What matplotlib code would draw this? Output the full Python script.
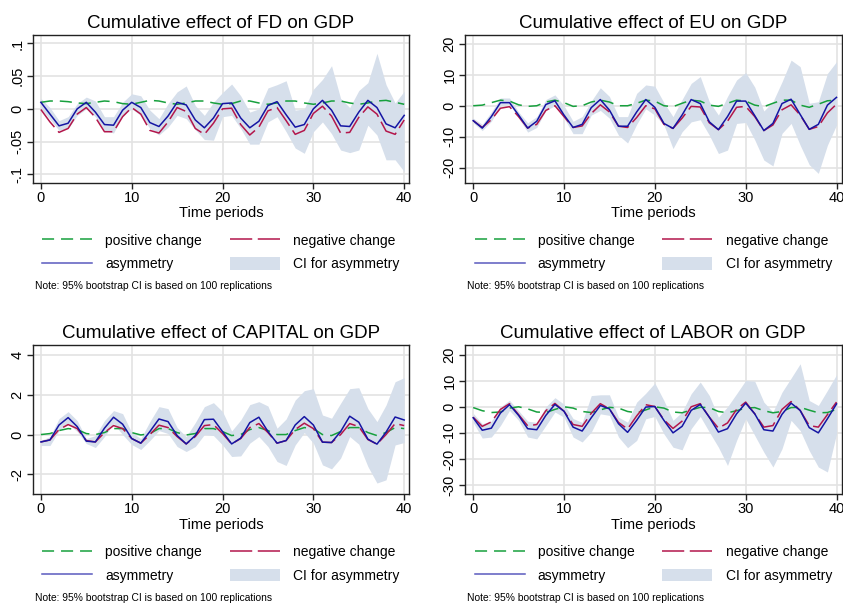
import numpy as np
import matplotlib
matplotlib.use("Agg")
import matplotlib.pyplot as plt
from matplotlib.patches import Patch
from matplotlib.lines import Line2D

plt.rcParams["font.family"] = ["Liberation Sans", "DejaVu Sans"]
plt.rcParams["lines.scale_dashes"] = False

periods = np.arange(0, 41)

# FD
fd_pos = [0.010, 0.012, 0.012, 0.011, 0.009, 0.008, 0.010, 0.012, 0.011, 0.008, 0.007, 0.010, 0.013, 0.012,
          0.009, 0.007, 0.009, 0.012, 0.012, 0.009, 0.007, 0.008, 0.012, 0.012, 0.009, 0.007, 0.009, 0.012,
          0.012, 0.009, 0.007, 0.009, 0.012, 0.012, 0.009, 0.007, 0.009, 0.012, 0.013, 0.010, 0.007]
fd_neg = [-0.001, -0.020, -0.036, -0.030, -0.008, 0.002, -0.013, -0.035, -0.035, -0.012, 0.002, -0.008, -0.033,
          -0.037, -0.020, 0.002, -0.004, -0.030, -0.039, -0.022, 0.000, 0.001, -0.024, -0.040, -0.028, -0.003,
          0.002, -0.018, -0.039, -0.033, -0.007, 0.004, -0.011, -0.037, -0.036, -0.013, 0.003, -0.008, -0.034,
          -0.039, -0.017]
fd_asym = [0.010, -0.008, -0.026, -0.022, 0.000, 0.010, -0.005, -0.024, -0.025, -0.002, 0.010, 0.002, -0.021,
           -0.027, -0.011, 0.010, 0.006, -0.017, -0.029, -0.014, 0.008, 0.009, -0.014, -0.029, -0.019, 0.005,
           0.011, -0.009, -0.028, -0.024, 0.000, 0.013, -0.002, -0.026, -0.027, -0.005, 0.013, 0.002, -0.023,
           -0.029, -0.010]
fd_hi = [0.016, 0.002, -0.018, -0.012, 0.008, 0.018, 0.012, -0.012, -0.012, 0.010, 0.023, 0.020, -0.002, -0.015,
         0.008, 0.026, 0.035, 0.005, -0.010, 0.010, 0.025, 0.038, 0.020, -0.005, 0.000, 0.032, 0.037, 0.043,
         -0.002, 0.000, 0.030, 0.045, 0.066, 0.016, 0.002, 0.028, 0.040, 0.085, 0.037, 0.009, 0.027]
fd_lo = [0.000, -0.016, -0.033, -0.030, -0.010, 0.000, -0.012, -0.033, -0.037, -0.010, 0.000, -0.010, -0.030,
         -0.040, -0.028, -0.010, -0.015, -0.032, -0.047, -0.048, -0.012, -0.010, -0.030, -0.054, -0.054, -0.020,
         -0.012, -0.035, -0.060, -0.068, -0.035, -0.020, -0.038, -0.063, -0.067, -0.063, -0.025, -0.040, -0.078,
         -0.078, -0.096]

# EU
eu_pos = [0.0, 0.2, 1.0, 1.8, 1.5, 0.3, -0.2, 0.0, 1.2, 1.8, 1.0, -0.2, 0.0, 1.2, 1.8, 1.2, 0.0, 0.0, 0.8, 1.8,
          1.5, 0.0, -0.3, 0.8, 1.8, 1.5, 0.2, -0.2, 0.8, 1.8, 1.5, 0.2, -0.3, 0.8, 1.8, 1.8, 0.2, -0.5, 0.5, 1.6, 1.8]
eu_neg = [-4.8, -7.0, -4.5, -0.8, -0.3, -3.5, -7.2, -6.0, -1.5, 0.0, -3.5, -7.0, -6.5, -2.5, 0.3, -2.0, -6.6,
          -7.0, -3.8, 0.0, -1.0, -6.0, -7.3, -4.0, -0.2, -0.4, -5.5, -7.7, -5.0, -0.5, -0.2, -3.5, -8.0, -6.2,
          -1.3, 0.3, -3.0, -7.6, -6.7, -2.3, 0.5]
eu_asym = [-4.8, -7.2, -3.5, 1.0, 1.0, -3.0, -7.2, -5.0, 0.4, 1.6, -3.0, -7.0, -6.0, -0.6, 2.0, -1.4, -6.6, -6.6,
           -2.0, 2.0, -0.5, -5.7, -7.3, -3.0, 2.0, 0.7, -5.2, -7.7, -3.5, 1.5, 1.5, -3.2, -8.0, -5.7, 0.7, 2.1,
           -2.8, -7.6, -6.0, 0.2, 2.7]
eu_hi = [-4.0, -6.0, -2.0, 2.5, 2.5, -2.0, -5.5, -3.5, 2.0, 3.5, 0.0, -5.0, -3.5, 1.5, 5.8, 3.0, -3.5, -3.5, 4.0,
         6.7, 6.3, 1.0, -3.5, 2.0, 7.2, 9.4, 1.3, -3.0, 3.0, 8.3, 10.7, 6.0, -1.7, 1.3, 7.7, 14.7, 12.6, 0.8, 1.3,
         10.4, 14.2]
eu_lo = [-5.5, -8.0, -5.0, 0.0, 0.5, -4.0, -8.5, -7.0, -1.5, 0.0, -4.0, -9.0, -9.0, -3.0, -1.5, -4.0, -9.5,
         -12.0, -6.0, -1.0, -3.0, -6.2, -13.8, -8.4, -5.2, -4.5, -9.5, -15.4, -14.3, -5.7, -5.4, -11.0, -17.5,
         -19.4, -8.9, -5.7, -12.7, -19.0, -21.8, -12.7, -6.2]

# CAPITAL
cap_pos = [0.00, 0.05, 0.20, 0.30, 0.25, 0.05, 0.00, 0.10, 0.30, 0.30, 0.10, -0.02, 0.05, 0.30, 0.30, 0.10,
           -0.02, 0.05, 0.30, 0.30, 0.15, -0.05, 0.00, 0.25, 0.35, 0.20, 0.00, 0.00, 0.20, 0.35, 0.30, 0.00,
           -0.05, 0.15, 0.35, 0.35, 0.10, -0.05, 0.10, 0.35, 0.30]
cap_neg = [-0.37, -0.27, 0.25, 0.50, 0.30, -0.30, -0.37, 0.10, 0.45, 0.30, -0.20, -0.43, 0.00, 0.47, 0.35, -0.10,
           -0.47, -0.10, 0.45, 0.50, 0.05, -0.47, -0.20, 0.35, 0.55, 0.10, -0.43, -0.30, 0.25, 0.57, 0.30, -0.38,
           -0.40, 0.00, 0.55, 0.40, -0.25, -0.48, 0.00, 0.55, 0.45]
cap_asym = [-0.37, -0.27, 0.48, 0.85, 0.40, -0.33, -0.37, 0.32, 0.87, 0.52, -0.20, -0.43, 0.15, 0.78, 0.65, -0.05,
            -0.47, -0.05, 0.75, 0.77, 0.15, -0.47, -0.18, 0.60, 0.87, 0.15, -0.43, -0.30, 0.48, 0.90, 0.48, -0.38,
            -0.40, 0.15, 0.92, 0.62, -0.23, -0.48, 0.12, 0.88, 0.73]
cap_hi = [-0.30, -0.10, 0.80, 1.15, 0.70, -0.20, -0.05, 0.70, 1.20, 1.05, 0.10, -0.20, 0.65, 1.40, 1.30, 0.35,
          -0.10, 0.60, 1.40, 1.60, 1.15, 0.18, 0.73, 1.50, 1.65, 1.43, 0.32, 0.78, 1.73, 2.20, 2.30, 0.98, 0.82,
          1.57, 2.30, 2.35, 1.30, 0.65, 1.48, 2.65, 2.85]
cap_lo = [-0.55, -0.55, 0.20, 0.55, 0.15, -0.45, -0.65, -0.10, 0.55, 0.00, -0.50, -0.75, -0.30, 0.20, 0.05, -0.60,
          -0.85, -0.60, 0.00, -0.05, -0.52, -1.10, -1.07, -0.43, -0.10, -0.60, -1.35, -1.55, -0.52, 0.10, -0.43,
          -1.52, -1.72, -1.18, -0.10, -0.48, -1.60, -2.43, -2.27, -0.52, -0.40]

# LABOR
lab_pos = [-0.3, -1.5, -2.2, -2.0, -0.5, 0.0, -0.8, -2.0, -2.2, -1.0, 0.0, -0.5, -1.8, -2.2, -1.2, -0.2, -0.5,
           -1.8, -2.3, -1.2, 0.0, -0.5, -2.0, -2.3, -1.2, -0.2, -0.3, -1.8, -2.3, -1.5, -0.5, -0.3, -1.5, -2.3,
           -1.8, -0.3, -0.2, -1.3, -2.3, -2.2, -1.0]
lab_neg = [-4.0, -7.5, -5.8, -1.0, 1.2, -3.0, -7.3, -6.8, -1.5, 1.3, -1.7, -6.8, -7.5, -2.5, 1.2, -0.8, -6.0,
           -8.5, -3.5, 0.8, 0.1, -5.0, -8.3, -5.5, 0.0, 1.2, -4.0, -8.2, -6.2, -1.0, 1.8, -2.7, -7.8, -7.2, -1.0,
           2.0, -1.4, -7.2, -7.8, -3.0, 1.8]
lab_asym = [-4.2, -9.0, -8.2, -2.4, 0.8, -3.3, -8.4, -8.8, -3.3, 0.9, -1.7, -7.8, -9.3, -4.2, 0.5, -0.8, -6.5,
            -9.8, -5.2, -0.1, 0.1, -5.2, -10.0, -7.5, -1.4, 0.9, -4.0, -9.7, -8.4, -2.7, 1.4, -2.7, -8.8, -9.3,
            -2.9, 1.4, -1.4, -8.0, -10.0, -4.6, 1.1]
lab_hi = [-2.5, -6.5, -5.5, 0.0, 2.5, -1.5, -5.5, -6.0, 0.0, 3.5, 1.0, -4.5, -6.0, 4.3, 4.6, 4.6, -4.0, -5.9, 1.8,
          5.2, 9.1, 2.4, -5.2, -2.0, 5.0, 9.5, 4.3, -4.0, 0.0, 5.0, 10.1, 9.8, 1.8, -2.0, 5.6, 11.0, 16.5, 2.4,
          0.5, 6.3, 12.3]
lab_lo = [-6.0, -12.0, -11.6, -7.2, -1.4, -5.2, -11.6, -12.3, -7.2, -2.0, -4.0, -11.6, -13.5, -9.7, -2.7, -3.3,
          -11.6, -15.7, -12.9, -4.6, -3.7, -10.4, -15.5, -16.5, -8.4, -3.7, -9.7, -15.5, -22.5, -12.9, -4.6,
          -11.0, -17.4, -23.1, -16.1, -5.2, -9.1, -16.8, -23.1, -25.0, -10.4]

x_ticks = [0, 10, 20, 30, 40]
legend_labels = ["positive change", "asymmetry", "negative change", "CI for asymmetry"]
note = "Note: 95% bootstrap CI is based on 100 replications"

GREEN = "#17a03d"
RED = "#b3164b"
BLUE = "#1515a3"
CI = "#d6dfeb"
GRID = "#e3e3e3"
POS_DASH = (8.7, 5)
NEG_DASH = (16, 4)


def draw_panel(ax, title, pos, neg, asym, lo, hi, ylim, yticks, yticklabels):
    ax.fill_between(periods, lo, hi, color=CI, lw=0, zorder=1)
    ax.plot(periods, pos, color=GREEN, lw=1.1, dashes=POS_DASH, zorder=2)
    ax.plot(periods, neg, color=RED, lw=1.1, dashes=NEG_DASH, zorder=3)
    ax.plot(periods, asym, color=BLUE, lw=1.1, zorder=4)

    ax.set_xlim(-0.9, 40.55)
    ax.set_ylim(*ylim)
    ax.set_xticks(x_ticks)
    ax.set_yticks(yticks)
    ax.set_yticklabels(yticklabels, rotation=90, va="center")
    ax.tick_params(labelsize=10.5, length=4, width=1, color="#222222", pad=2)
    ax.grid(True, color=GRID, lw=1.2, zorder=0)
    ax.set_axisbelow(True)
    for s in ax.spines.values():
        s.set_color("#222222")
        s.set_linewidth(1.0)
    ax.set_xlabel("Time periods", fontsize=10.5, labelpad=1)
    ax.set_title(title, fontsize=13.5, pad=5)

    handles = [
        Line2D([], [], color=GREEN, lw=1.1, dashes=POS_DASH),
        Line2D([], [], color=BLUE, lw=1.1, alpha=0.7),
        Line2D([], [], color=RED, lw=1.1, dashes=NEG_DASH),
        Patch(facecolor=CI, edgecolor="none"),
    ]
    ax.legend(handles, legend_labels, loc="upper center", bbox_to_anchor=(0.5, -0.26),
              ncol=2, frameon=False, fontsize=10, handlelength=3.6, handleheight=1.0,
              handletextpad=0.95, columnspacing=2.0, labelspacing=0.68)
    ax.text(0.005, -0.70, note, transform=ax.transAxes, fontsize=7.4, ha="left", va="center")


fig = plt.figure(figsize=(8.43, 6.04), dpi=100)
W, H = 843.0, 604.0

ax1 = fig.add_axes([32.7 / W, 1 - 182.7 / H, 376.5 / W, 147.7 / H])
ax2 = fig.add_axes([465 / W, 1 - 182.7 / H, 376.5 / W, 147.7 / H])
ax3 = fig.add_axes([32.7 / W, 1 - 494 / H, 376.5 / W, 149 / H])
ax4 = fig.add_axes([465 / W, 1 - 494 / H, 376.5 / W, 149 / H])

draw_panel(ax1, "Cumulative effect of FD on GDP", fd_pos, fd_neg, fd_asym, fd_lo, fd_hi,
           (-0.113, 0.113), [-0.1, -0.05, 0, 0.05, 0.1], ["-.1", "-.05", "0", ".05", ".1"])
draw_panel(ax2, "Cumulative effect of EU on GDP", eu_pos, eu_neg, eu_asym, eu_lo, eu_hi,
           (-24.8, 22.8), [-20, -10, 0, 10, 20], ["-20", "-10", "0", "10", "20"])
draw_panel(ax3, "Cumulative effect of CAPITAL on GDP", cap_pos, cap_neg, cap_asym, cap_lo, cap_hi,
           (-2.98, 4.49), [-2, 0, 2, 4], ["-2", "0", "2", "4"])
draw_panel(ax4, "Cumulative effect of LABOR on GDP", lab_pos, lab_neg, lab_asym, lab_lo, lab_hi,
           (-33.45, 23.7), [-30, -20, -10, 0, 10, 20], ["-30", "-20", "-10", "0", "10", "20"])

fig.savefig("out.png", dpi=100, facecolor="white")
